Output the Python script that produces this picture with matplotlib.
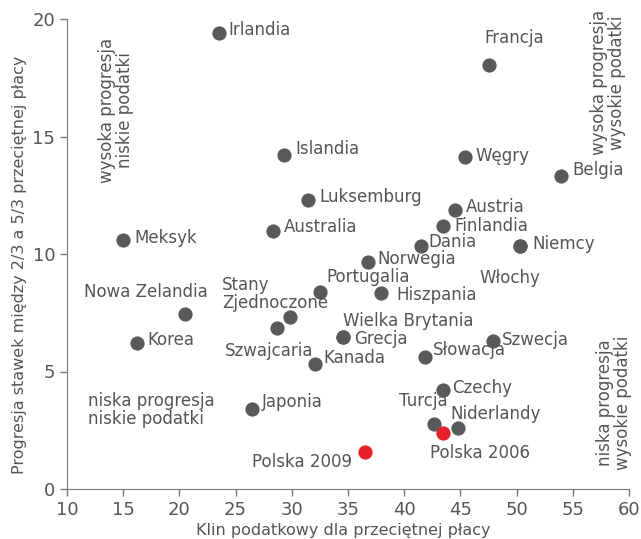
import matplotlib
matplotlib.use("Agg")
import matplotlib.pyplot as plt

plt.rcParams['font.family'] = ['DejaVu Sans']

# klin podatkowy (x) i progresja (y)
countries = ["Irlandia", "Francja", "Islandia", "Węgry", "Belgia", "Luksemburg",
             "Austria", "Australia", "Finlandia", "Dania", "Meksyk", "Niemcy",
             "Włochy", "Norwegia", "Portugalia", "Stany\nZjednoczone", "Hiszpania",
             "Nowa Zelandia", "Szwajcaria", "Korea", "Wielka Brytania", "Grecja",
             "Szwecja", "Słowacja", "Kanada", "Czechy", "Japonia", "Turcja",
             "Niderlandy"]
wedge = [23.5, 47.5, 29.3, 45.4, 53.95, 31.4,
         44.5, 28.3, 43.45, 41.5, 15.0, 50.3,
         50.3, 36.8, 32.5, 29.85, 37.9,
         20.5, 28.7, 16.2, 34.55, 34.55,
         47.9, 41.85, 32.05, 43.45, 26.45, 42.65,
         44.8]
progression = [19.4, 18.05, 14.2, 14.13, 13.3, 12.3,
               11.87, 11.0, 11.2, 10.34, 10.6, 10.34,
               10.34, 9.66, 8.38, 7.32, 8.34,
               7.45, 6.85, 6.2, 6.47, 6.47,
               6.3, 5.62, 5.32, 4.21, 3.4, 2.77,
               2.6]

poland = ["Polska 2006", "Polska 2009"]
poland_wedge = [43.45, 36.5]
poland_prog = [2.38, 1.57]

# przesuniecia etykiet (px), wyrownanie
offsets = {
    "Irlandia": (10, 3, "left"), "Francja": (26, 27, "center"),
    "Islandia": (11, 6, "left"), "Węgry": (11, 1, "left"),
    "Belgia": (11, 6, "left"), "Luksemburg": (12, 3, "left"),
    "Austria": (11, 3, "left"), "Australia": (11, 3, "left"),
    "Finlandia": (11, 0, "left"), "Dania": (7, 4, "left"),
    "Meksyk": (11, 2, "left"), "Niemcy": (12, 2, "left"),
    "Włochy": (-10, -32, "center"), "Norwegia": (9, 3, "left"),
    "Portugalia": (6, 15, "left"), "Stany\nZjednoczone": (-68, 23, "left"),
    "Hiszpania": (16, -2, "left"), "Nowa Zelandia": (-39, 22, "center"),
    "Szwajcaria": (-8, -23, "center"), "Korea": (11, 3, "left"),
    "Wielka Brytania": (0, 16, "left"), "Grecja": (11, -2, "left"),
    "Szwecja": (9, 1, "left"), "Słowacja": (8, 7, "left"),
    "Kanada": (9, 6, "left"), "Czechy": (9, 2, "left"),
    "Japonia": (10, 7, "left"), "Turcja": (-11, 23, "center"),
    "Niderlandy": (-8, 14, "left"),
    "Polska 2006": (-13, -20, "left"), "Polska 2009": (-13, -10, "right"),
}

grey = "#58595b"
txt = "#555555"
red = "#e8202a"

fig = plt.figure(figsize=(6.41, 5.39), dpi=100)
ax = fig.add_axes([67/641, 1 - 489/539, (629 - 67)/641, (489 - 19)/539])

ax.scatter(wedge, progression, s=105, color=grey, zorder=3, linewidths=0)
ax.scatter(poland_wedge, poland_prog, s=105, color=red, zorder=4, linewidths=0)

px = 72 / 100
for name, x, y in zip(countries + poland, wedge + poland_wedge, progression + poland_prog):
    dx, dy, ha = offsets[name]
    ax.annotate(name, (x, y), xytext=(dx * px, dy * px), textcoords="offset points",
                ha=ha, va="center", fontsize=12, color=txt, linespacing=0.95)

ax.set_xlim(10, 60)
ax.set_ylim(0, 20)
ax.set_xticks(range(10, 61, 5))
ax.set_yticks(range(0, 21, 5))
for s in ["top", "right"]:
    ax.spines[s].set_visible(False)
for s in ["left", "bottom"]:
    ax.spines[s].set_color("#777777")
ax.tick_params(colors="#777777", labelcolor=txt, labelsize=13, length=5, width=1)

fig.text(343/641, 1 - 531/539, "Klin podatkowy dla przeciętnej płacy", ha="center",
         va="center", fontsize=11.5, color=txt)
fig.text(20/641, 1 - 265/539, "Progresja stawek między 2/3 a 5/3 przeciętnej płacy",
         rotation=90, ha="center", va="center", fontsize=11.5, color=txt)

# opisy cwiartek
quad = dict(fontsize=12, color=txt, linespacing=0.95)
fig.text(116/641, 1 - 183/539, "wysoka progresja\nniskie podatki", rotation=90,
         ha="center", va="bottom", **quad)
fig.text(608/641, 1 - 155/539, "wysoka progresja\nwysokie podatki", rotation=90,
         ha="center", va="bottom", **quad)
fig.text(614/641, 1 - 470/539, "niska progresja\nwysokie podatki", rotation=90,
         ha="center", va="bottom", **quad)
fig.text(88/641, 1 - 410/539, "niska progresja\nniskie podatki",
         ha="left", va="center", **quad)

fig.savefig("out.png", dpi=100)
